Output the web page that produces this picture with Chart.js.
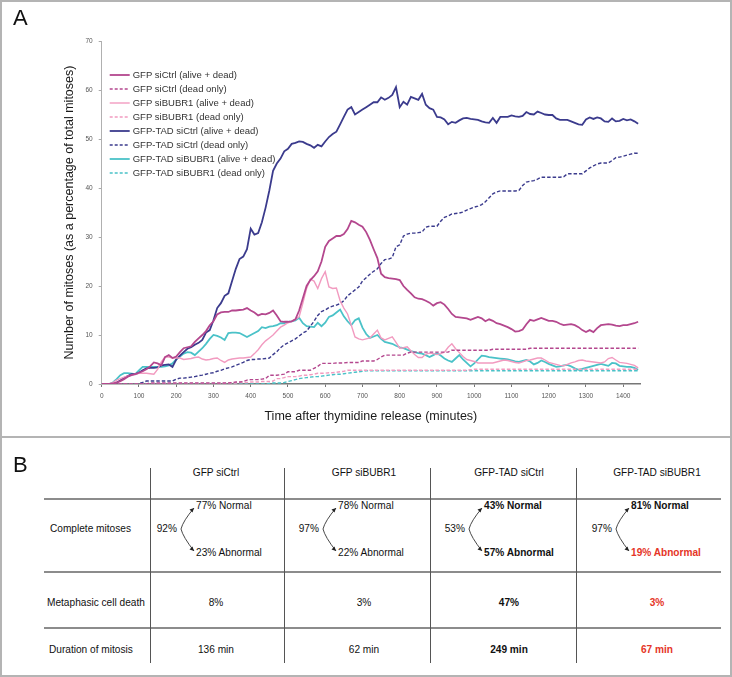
<!DOCTYPE html>
<html>
<head>
<meta charset="utf-8">
<script src="https://cdn.jsdelivr.net/npm/chart.js@4.4.1/dist/chart.umd.min.js"></script>
<style>
    html, body { margin: 0; padding: 0; background: #fff; }
    #fig { position: relative; width: 732px; height: 677px; overflow: hidden; font-family: "Liberation Sans", Arial, sans-serif; }
    #chartA { position: absolute; left: 0; top: 0; }
    .panel { position: absolute; font-size: 22px; line-height: 22px; color: #111; }
    .sep { position: absolute; left: 0; top: 436px; width: 732px; height: 2px; background: #b4b4b4; }
    .frame { position: absolute; left: 0; top: 0; width: 732px; height: 677px; box-sizing: border-box; border: 2px solid #b4b4b4; pointer-events: none; }
    .cell { position: absolute; white-space: nowrap; line-height: 1; font-size: 11.5px; color: #111;
            font-family: "Liberation Sans", Arial, sans-serif; }
    .hline { position: absolute; height: 1.5px; background: #8c8c8c; }
    .vline { position: absolute; width: 1px; background: #555; }
    #arrows { position: absolute; left: 0; top: 0; }
</style>
</head>
<body>
<div id="fig">
    <canvas id="chartA" width="732" height="437"></canvas>
    <div class="panel" style="left:13px;top:7px">A</div>
    <div class="sep"></div>
    <div class="panel" style="left:13px;top:454px">B</div>
    <div id="tableB"></div>
    <svg id="arrows" width="732" height="677"></svg>
    <div class="frame"></div>
</div>
<script>
// time after thymidine release (minutes)
const TIMES = [
    0, 10, 20, 30, 40, 50, 60, 70, 80, 90,
    100, 110, 120, 130, 140, 150, 160, 170, 180, 190,
    200, 210, 220, 230, 240, 250, 260, 270, 280, 290,
    300, 310, 320, 330, 340, 350, 360, 370, 380, 390,
    400, 410, 420, 430, 440, 450, 460, 470, 480, 490,
    500, 510, 520, 530, 540, 550, 560, 570, 580, 590,
    600, 610, 620, 630, 640, 650, 660, 670, 680, 690,
    700, 710, 720, 730, 740, 750, 760, 770, 780, 790,
    800, 810, 820, 830, 840, 850, 860, 870, 880, 890,
    900, 910, 920, 930, 940, 950, 960, 970, 980, 990,
    1000, 1010, 1020, 1030, 1040, 1050, 1060, 1070, 1080, 1090,
    1100, 1110, 1120, 1130, 1140, 1150, 1160, 1170, 1180, 1190,
    1200, 1210, 1220, 1230, 1240, 1250, 1260, 1270, 1280, 1290,
    1300, 1310, 1320, 1330, 1340, 1350, 1360, 1370, 1380, 1390,
    1400, 1410, 1420, 1430, 1440
];

// GFP siCtrl (alive + dead)
const gfpCtrlAll = [
    0, 0, 0, 0.1, 0.3, 0.6, 1, 1.5, 1.8, 2,
    2.3, 2.6, 3, 3.6, 4.4, 4.2, 3.8, 5.5, 5.9, 5.3,
    5.6, 6.5, 7.3, 7.5, 7.7, 8.6, 9.3, 10, 10.8, 12,
    12.8, 14.2, 14.6, 14.7, 14.7, 15, 15, 15.1, 15.2, 15.5,
    15, 14.6, 14, 14.3, 14.2, 14.5, 15, 14, 12.8, 12.7,
    12.7, 12.8, 13.2, 15, 17.5, 20, 21.2, 22, 23, 25,
    28, 29.2, 29.7, 30.2, 30.2, 30.6, 31.6, 33.3, 33, 32.5,
    32.1, 31, 29.4, 27.5, 25.7, 22.5, 21.8, 21.6, 21.5, 21.4,
    21.2, 20, 19.2, 18.5, 17.7, 17.4, 17.3, 17, 16.6, 16,
    16.5, 16.7, 16.2, 15.3, 14.3, 13.7, 13.6, 13.5, 13.4, 13.1,
    13.4, 13.7, 13.4, 12.8, 13.2, 12.9, 12.4, 12.2, 11.9, 11.6,
    11.2, 10.7, 10.8, 11.1, 12.2, 13.1, 12.9, 13.2, 13.5, 13.2,
    12.9, 12.9, 12.7, 12.3, 12, 12.1, 12.2, 12, 11.6, 11,
    10.6, 11, 10.6, 11.4, 12, 12.1, 12.2, 12.1, 11.9, 11.8,
    12, 12, 12.2, 12.4, 12.7
];
// GFP siCtrl (dead only)
const gfpCtrlDead = [
    0, 0, 0, 0, 0, 0, 0, 0, 0, 0,
    0, 0, 0, 0.2, 0.2, 0.2, 0.2, 0.2, 0.2, 0.2,
    0.2, 0.2, 0.2, 0.2, 0.2, 0.2, 0.2, 0.2, 0.2, 0.2,
    0.2, 0.2, 0.2, 0.2, 0.2, 0.3, 0.4, 0.4, 0.5, 0.8,
    0.9, 0.9, 0.9, 1, 1.1, 1.8, 1.8, 1.8, 1.9, 2,
    2.5, 2.5, 2.5, 2.8, 2.8, 2.8, 2.8, 3.2, 3.6, 4.2,
    4.2, 4.2, 4.2, 4.3, 4.3, 4.3, 4.4, 4.4, 4.4, 4.4,
    4.7, 4.7, 4.7, 4.7, 5, 5.5, 5.9, 5.9, 5.9, 5.9,
    5.9, 5.9, 6.3, 6.5, 6.5, 6.5, 6.5, 6.5, 6.5, 6.5,
    6.5, 6.5, 6.5, 6.5, 6.9, 6.9, 6.9, 6.9, 6.9, 6.9,
    6.9, 6.9, 6.9, 6.9, 6.9, 7.1, 7.1, 7.1, 7.1, 7.1,
    7.1, 7.1, 7.1, 7.1, 7.1, 7.3, 7.3, 7.3, 7.3, 7.3,
    7.3, 7.3, 7.3, 7.3, 7.3, 7.3, 7.3, 7.3, 7.3, 7.3,
    7.3, 7.3, 7.3, 7.3, 7.3, 7.3, 7.3, 7.3, 7.3, 7.3,
    7.3, 7.3, 7.3, 7.3, 7.3
];
// GFP siBUBR1 (alive + dead)
const gfpBubAll = [
    0, 0, 0, 0.3, 0.8, 1.1, 1.4, 1.6, 1.8, 2,
    2.2, 2.2, 2.2, 2.1, 2, 3, 4.5, 5.5, 5.5, 5.3,
    5.3, 5.3, 5, 5.1, 5.2, 5.4, 5.5, 5.1, 4.9, 5,
    5.2, 5.3, 4.8, 4.4, 4.9, 5.1, 5.2, 5.3, 5.3, 5.4,
    5.5, 6.2, 7, 8, 8.8, 9.4, 10, 10.8, 11.6, 12,
    12.5, 12.8, 13.2, 13.7, 16.5, 19.5, 21.4, 21, 19.5, 21.5,
    22.9, 19.8, 19.5, 19.6, 17, 15.5, 14.3, 12, 9.6, 9.2,
    9, 9.2, 9.4, 10.2, 11, 9.4, 9, 9.3, 9.6, 8.5,
    7.3, 7.4, 7.6, 6.8, 6, 5.4, 5.4, 6.1, 6.3, 6.2,
    6, 6.2, 6.5, 7.5, 8.2, 7.2, 6.4, 5.6, 5, 4.8,
    4.6, 4.3, 4.3, 4.3, 4.3, 4.3, 4.5, 4.7, 4.9, 4.8,
    4.6, 4.4, 4.3, 4.5, 4.8, 4.9, 5.1, 5.3, 5.3, 4.9,
    4.4, 4.2, 4, 3.8, 3.7, 4, 4.3, 4.5, 4.8, 4.9,
    4.7, 4.6, 4.5, 4.4, 4.3, 4.5, 5.2, 5.4, 4.9, 4.4,
    4.3, 4.2, 4, 3.8, 3.3
];
// GFP siBUBR1 (dead only)
const gfpBubDead = [
    0, 0, 0, 0, 0, 0, 0, 0, 0, 0,
    0, 0, 0, 0, 0, 0, 0, 0, 0, 0,
    0, 0, 0, 0, 0, 0, 0, 0, 0, 0,
    0, 0, 0.1, 0.1, 0.2, 0.2, 0.2, 0.3, 0.3, 0.3,
    0.4, 0.4, 0.4, 0.5, 0.5, 0.5, 0.6, 1.1, 1.1, 1.3,
    1.5, 1.5, 1.5, 1.6, 1.8, 1.8, 1.9, 2, 2.2, 2.2,
    2.2, 2.3, 2.3, 2.4, 2.5, 2.6, 2.8, 2.8, 2.8, 2.8,
    2.8, 2.8, 2.8, 2.8, 2.8, 2.8, 2.8, 2.8, 2.8, 2.8,
    2.8, 2.8, 2.8, 2.8, 2.8, 2.8, 2.8, 2.8, 2.8, 2.8,
    2.8, 2.8, 2.8, 2.8, 2.8, 2.8, 2.8, 2.8, 2.8, 2.9,
    3, 3, 3, 3, 3, 3, 3, 3, 3, 3,
    3, 3, 3, 3, 3, 3, 3, 3, 3, 3,
    3, 3, 3, 3, 3, 3, 3, 3, 3, 3,
    3, 3, 3, 3, 3, 3, 3, 3, 3, 3,
    3, 3, 3, 3, 3
];
// GFP-TAD siCtrl (alive + dead)
const tadCtrlAll = [
    0, 0, 0, 0, 0.3, 0.7, 1.2, 1.6, 2, 2,
    2.3, 2.8, 3.2, 3.3, 3.3, 3.4, 3.8, 3.9, 4, 3.5,
    5, 5.8, 6.5, 7.2, 7.5, 8, 8.4, 9, 10.5, 11,
    13, 15.5, 16.5, 18, 18.5, 21, 23.5, 25.5, 26, 27.5,
    31.7, 30.5, 30.8, 33, 36, 39.5, 43.5, 45, 46, 47.5,
    48, 49, 49.2, 49.5, 49.4, 49, 48.7, 48.2, 48.8, 48.5,
    49.5, 50.4, 51, 51.5, 53, 54.5, 56, 56.5, 55, 55.5,
    56, 56.5, 57, 57.5, 57.5, 58.5, 58, 58.4, 59, 60.6,
    56.5, 57.6, 57, 58.6, 58.3, 58, 59.2, 57, 56.3, 56,
    54.5, 54.4, 54, 53, 53.5, 53.3, 53.8, 54.2, 54.3, 54.1,
    54, 53.9, 53.6, 53.4, 53.3, 54.3, 53.3, 54.5, 54.5, 54.5,
    54.8, 54.6, 54.5, 54.7, 55.5, 55.1, 55, 55.6, 55.3, 55,
    54.9, 54.9, 54.2, 53.9, 53.9, 53.9, 53.6, 53.3, 53, 52.9,
    54, 54.4, 54.1, 54.4, 54.2, 53.6, 53.5, 54.2, 53.6, 53.7,
    54.1, 53.8, 54, 53.6, 53.1
];
// GFP-TAD siCtrl (dead only)
const tadCtrlDead = [
    0, 0, 0, 0, 0, 0, 0, 0, 0, 0,
    0.1, 0.3, 0.6, 0.6, 0.6, 0.6, 0.6, 0.6, 0.6, 0.6,
    1, 1.2, 1.2, 1.3, 1.4, 1.5, 1.7, 1.8, 2, 2.2,
    2.3, 2.6, 2.8, 3.1, 3.3, 3.5, 3.8, 4.1, 4.4, 4.8,
    5, 5, 5.1, 5.1, 5.2, 5.3, 6, 6.6, 7.4, 8,
    8.4, 8.8, 9.2, 9.8, 10.4, 10.8, 11.8, 12.8, 14, 14.8,
    15.1, 15.6, 15.9, 16.1, 16.4, 17, 18, 18.6, 19.2, 19.8,
    21, 21.7, 22.4, 23, 23.5, 24.6, 25.4, 25.5, 25.8, 28,
    28.4, 30.2, 30.6, 30.8, 30.8, 30.9, 31, 32, 32.2, 32.2,
    32.2, 33.2, 34, 34.3, 34.7, 34.8, 34.9, 35.1, 35.5, 35.8,
    36.1, 36.3, 36.6, 37.2, 38, 38.8, 39.2, 39.4, 39.4, 39.4,
    39.4, 39.4, 39.5, 40.5, 41.2, 41.4, 41.5, 41.8, 42.2, 42.2,
    42.2, 42.2, 42.2, 42.2, 42.3, 42.9, 42.9, 42.9, 42.9, 42.9,
    43.5, 44.1, 44.5, 44.9, 45.1, 45.1, 45.1, 45.6, 46.2, 46.3,
    46.5, 46.7, 46.9, 47.1, 47.1
];
// GFP-TAD siBUBR1 (alive + dead)
const tadBubAll = [
    0, 0, 0, 0.3, 1, 1.8, 2.2, 2.2, 2.1, 2,
    2.8, 3.5, 3.5, 3.5, 3.5, 3.5, 3.5, 3.6, 3.8, 4.2,
    5, 5.6, 6.2, 6.5, 6.4, 5.9, 6.6, 7.3, 8.2, 9.2,
    10, 9.8, 9.5, 9, 10.4, 10.5, 10.5, 10.4, 10, 9.6,
    10, 10.4, 10.8, 11.6, 11.4, 11.7, 11.8, 12, 12.4, 12.4,
    12.7, 12.8, 13, 13.5, 12.4, 11.8, 11.7, 11.6, 12.5, 11.8,
    12.5, 13.7, 14, 14.6, 15.2, 13.8, 12.8, 12, 13, 13.4,
    11.5, 10.2, 9.4, 9.7, 10, 9.2, 8.6, 8.4, 8.2, 7.8,
    7.5, 7.3, 7, 6.7, 6.5, 6.3, 6.2, 5.9, 5.5, 5.9,
    6.3, 5.8, 5.2, 4.8, 4.5, 5.2, 5.9, 5, 4.3, 3.6,
    4.2, 5, 5.8, 5.7, 5.5, 5.4, 5.3, 5.2, 5.1, 5,
    4.8, 4.6, 4.5, 4.7, 4.9, 4.6, 4, 4.3, 4.8, 4.5,
    4.1, 3.8, 3.5, 3.6, 3.8, 3.9, 3.6, 3.2, 2.9, 3.1,
    3.3, 3.5, 3.7, 3.9, 4.1, 3.9, 3.7, 4.3, 4.2, 3.7,
    3.6, 3.5, 3.5, 3.3, 2.9
];
// GFP-TAD siBUBR1 (dead only)
const tadBubDead = [
    0, 0, 0, 0, 0, 0, 0, 0, 0, 0,
    0, 0, 0, 0, 0, 0, 0, 0, 0, 0,
    0, 0, 0, 0, 0, 0, 0, 0, 0, 0,
    0, 0, 0, 0, 0, 0, 0, 0, 0, 0,
    0, 0, 0, 0, 0, 0.1, 0.2, 0.2, 0.2, 0.3,
    0.5, 0.7, 0.9, 1.1, 1.2, 1.3, 1.4, 1.5, 1.5, 1.6,
    1.7, 1.8, 1.9, 2, 2, 2.1, 2.2, 2.3, 2.4, 2.5,
    2.6, 2.7, 2.7, 2.7, 2.7, 2.7, 2.7, 2.7, 2.7, 2.7,
    2.7, 2.7, 2.7, 2.7, 2.7, 2.7, 2.7, 2.7, 2.7, 2.7,
    2.7, 2.7, 2.7, 2.7, 2.7, 2.7, 2.7, 2.7, 2.7, 2.7,
    2.7, 2.7, 2.7, 2.7, 2.7, 2.7, 2.7, 2.7, 2.7, 2.7,
    2.7, 2.7, 2.7, 2.7, 2.7, 2.7, 2.7, 2.7, 2.7, 2.7,
    2.7, 2.7, 2.7, 2.7, 2.7, 2.7, 2.7, 2.7, 2.7, 2.7,
    2.7, 2.7, 2.7, 2.7, 2.7, 2.7, 2.7, 2.7, 2.7, 2.7,
    2.7, 2.7, 2.7, 2.7, 2.7
];

// panel B table
const GROUPS = ['GFP siCtrl', 'GFP siBUBR1', 'GFP-TAD siCtrl', 'GFP-TAD siBUBR1'];
const ROW_LABELS = ['Complete mitoses', 'Metaphasic cell death', 'Duration of mitosis'];
const COMPLETE = [92, 97, 53, 97];
const NORMAL = [77, 78, 43, 81];
const ABNORMAL = [23, 22, 57, 19];
const DEATH = [8, 3, 47, 3];
const DURATION = [136, 62, 249, 67];

const MAGENTA = '#b4478e';
const PINK = '#f29bc0';
const NAVY = '#3b3b8d';
const CYAN = '#4ac2c8';
const RED = '#e53527';

function line(label, data, color, width, dashed) {
    return {
        label: label,
        data: data,
        borderColor: color,
        backgroundColor: color,
        borderWidth: width,
        borderDash: dashed ? [3.5, 2] : [],
        pointRadius: 0,
        tension: 0,
        fill: false
    };
}

const insideLegend = {
    id: 'insideLegend',
    afterDatasetsDraw(chart) {
        const ctx = chart.ctx;
        const area = chart.chartArea;
        ctx.save();
        chart.data.datasets.forEach(function (ds, i) {
            const x = area.left + 8;
            const y = area.top + 34 + i * 14;
            ctx.strokeStyle = ds.borderColor;
            ctx.lineWidth = ds.borderWidth;
            ctx.setLineDash(ds.borderDash.length ? [3, 2] : []);
            ctx.beginPath();
            ctx.moveTo(x, y);
            ctx.lineTo(x + 20, y);
            ctx.stroke();
            ctx.setLineDash([]);
            ctx.fillStyle = '#333';
            ctx.font = '9.5px "Liberation Sans", Arial, sans-serif';
            ctx.textBaseline = 'middle';
            ctx.fillText(ds.label, x + 23, y + 0.5);
        });
        ctx.restore();
    }
};

const ctx = document.getElementById('chartA').getContext('2d');
new Chart(ctx, {
    type: 'line',
    data: {
        labels: TIMES,
        datasets: [
            line('GFP siCtrl (alive + dead)', gfpCtrlAll, MAGENTA, 1.8, false),
            line('GFP siCtrl (dead only)', gfpCtrlDead, MAGENTA, 1.4, true),
            line('GFP siBUBR1 (alive + dead)', gfpBubAll, PINK, 1.4, false),
            line('GFP siBUBR1 (dead only)', gfpBubDead, PINK, 1.4, true),
            line('GFP-TAD siCtrl (alive + dead)', tadCtrlAll, NAVY, 1.8, false),
            line('GFP-TAD siCtrl (dead only)', tadCtrlDead, NAVY, 1.4, true),
            line('GFP-TAD siBUBR1 (alive + dead)', tadBubAll, CYAN, 1.8, false),
            line('GFP-TAD siBUBR1 (dead only)', tadBubDead, CYAN, 1.4, true)
        ]
    },
    options: {
        responsive: false,
        animation: false,
        devicePixelRatio: 1,
        layout: {padding: {left: 58, right: 92, top: 41, bottom: 9.2}},
        plugins: {legend: {display: false}, tooltip: {enabled: false}},
        scales: {
            x: {
                type: 'linear',
                min: 0,
                max: 1445,
                afterFit: function (s) { s.height = 43.8; },
                ticks: {stepSize: 100, includeBounds: false, padding: 5, color: '#555',
                        font: {size: 6.5, family: '"Liberation Sans", Arial'}, maxRotation: 0,
                        callback: function (v) { return String(v); }},
                grid: {drawOnChartArea: false, drawTicks: true, tickLength: 3, tickColor: '#777'},
                border: {display: true, color: '#777', width: 1.5},
                title: {display: true, text: 'Time after thymidine release (minutes)', color: '#1a1a1a',
                        font: {size: 12.5, family: '"Liberation Sans", Arial'}}
            },
            y: {
                min: 0,
                max: 70,
                afterFit: function (s) { s.width = 43.7; },
                ticks: {stepSize: 10, padding: 6, color: '#555',
                        font: {size: 6.5, family: '"Liberation Sans", Arial'},
                        callback: function (v) { return String(v); }},
                grid: {drawOnChartArea: false, drawTicks: true, tickLength: 3, tickColor: '#aaa'},
                border: {display: true, color: '#b0b0b0', width: 1},
                title: {display: true, text: 'Number of mitoses (as a percentage of total mitoses)', color: '#1a1a1a',
                        font: {size: 12.5, family: '"Liberation Sans", Arial'}}
            }
        }
    },
    plugins: [insideLegend]
});

// ---- panel B ----
const tableB = document.getElementById('tableB');
const svg = document.getElementById('arrows');
const COL_DIV = [150, 284, 430, 576];
const COL_CENTER = [216, 364, 509, 657];
const LABEL_X = [196, 338, 484, 631];
const Y_HEAD = 473, Y_NORMAL = 506, Y_MID = 529, Y_ABN = 553, Y_DEATH = 603, Y_DUR = 650;
const NARROW = 0.88;

function putText(txt, x, y, align, extra) {
    const d = document.createElement('div');
    d.className = 'cell';
    d.textContent = txt;
    d.style.left = x + 'px';
    d.style.top = y + 'px';
    if (align === 'center') {
        d.style.transformOrigin = 'center center';
        d.style.transform = 'translate(-50%,-50%) scaleX(' + NARROW + ')';
    } else if (align === 'right') {
        d.style.transformOrigin = 'right center';
        d.style.transform = 'translate(-100%,-50%) scaleX(' + NARROW + ')';
    } else {
        d.style.transformOrigin = 'left center';
        d.style.transform = 'translateY(-50%) scaleX(' + NARROW + ')';
    }
    if (extra) Object.assign(d.style, extra);
    tableB.appendChild(d);
}

function rule(cls, x, y, w, h) {
    const d = document.createElement('div');
    d.className = cls;
    d.style.left = x + 'px';
    d.style.top = y + 'px';
    if (w) d.style.width = w + 'px';
    if (h) d.style.height = h + 'px';
    tableB.appendChild(d);
}

rule('hline', 44, 498, 677);
rule('hline', 44, 571, 677);
rule('hline', 44, 627, 677);
COL_DIV.forEach(function (x) { rule('vline', x, 468, null, 195); });

// styles per column: plain, plain, bold, bold/red
const normStyle = [null, null, {fontWeight: 'bold'}, {fontWeight: 'bold'}];
const redStyle = [null, null, {fontWeight: 'bold'}, {fontWeight: 'bold', color: RED}];

putText(ROW_LABELS[0], 50, Y_MID, 'left');
putText(ROW_LABELS[1], 47, Y_DEATH, 'left');
putText(ROW_LABELS[2], 49, Y_DUR, 'left');

GROUPS.forEach(function (g, i) {
    putText(g, COL_CENTER[i], Y_HEAD, 'center');
    putText(COMPLETE[i] + '%', LABEL_X[i] - 19, Y_MID, 'right');
    putText(NORMAL[i] + '% Normal', LABEL_X[i], Y_NORMAL, 'left', normStyle[i]);
    putText(ABNORMAL[i] + '% Abnormal', LABEL_X[i], Y_ABN, 'left', redStyle[i]);
    putText(DEATH[i] + '%', COL_CENTER[i], Y_DEATH, 'center', redStyle[i]);
    putText(DURATION[i] + ' min', COL_CENTER[i], Y_DUR, 'center', redStyle[i]);

    // bracket arrows from the total to normal / abnormal
    const tip = LABEL_X[i] - 2, vx = LABEL_X[i] - 15;
    const yTop = Y_NORMAL + 2, yBot = Y_ABN - 2;
    const p = document.createElementNS('http://www.w3.org/2000/svg', 'path');
    p.setAttribute('d', 'M' + tip + ' ' + yTop + ' Q' + (vx + 2) + ' ' + (Y_MID - 8) + ' ' + vx + ' ' + Y_MID +
        ' Q' + (vx + 2) + ' ' + (Y_MID + 8) + ' ' + tip + ' ' + yBot);
    p.setAttribute('fill', 'none');
    p.setAttribute('stroke', '#333');
    p.setAttribute('stroke-width', '0.9');
    svg.appendChild(p);
    [[tip, yTop, -1], [tip, yBot, 1]].forEach(function (a) {
        const h = document.createElementNS('http://www.w3.org/2000/svg', 'path');
        const s = a[2];
        h.setAttribute('d', 'M' + a[0] + ' ' + a[1] + ' L' + (a[0] - 4.5) + ' ' + (a[1] - s * 1.5) +
            ' L' + (a[0] - 1.5) + ' ' + (a[1] - s * 4.5) + ' Z');
        h.setAttribute('fill', '#222');
        svg.appendChild(h);
    });
});
</script>
</body>
</html>
